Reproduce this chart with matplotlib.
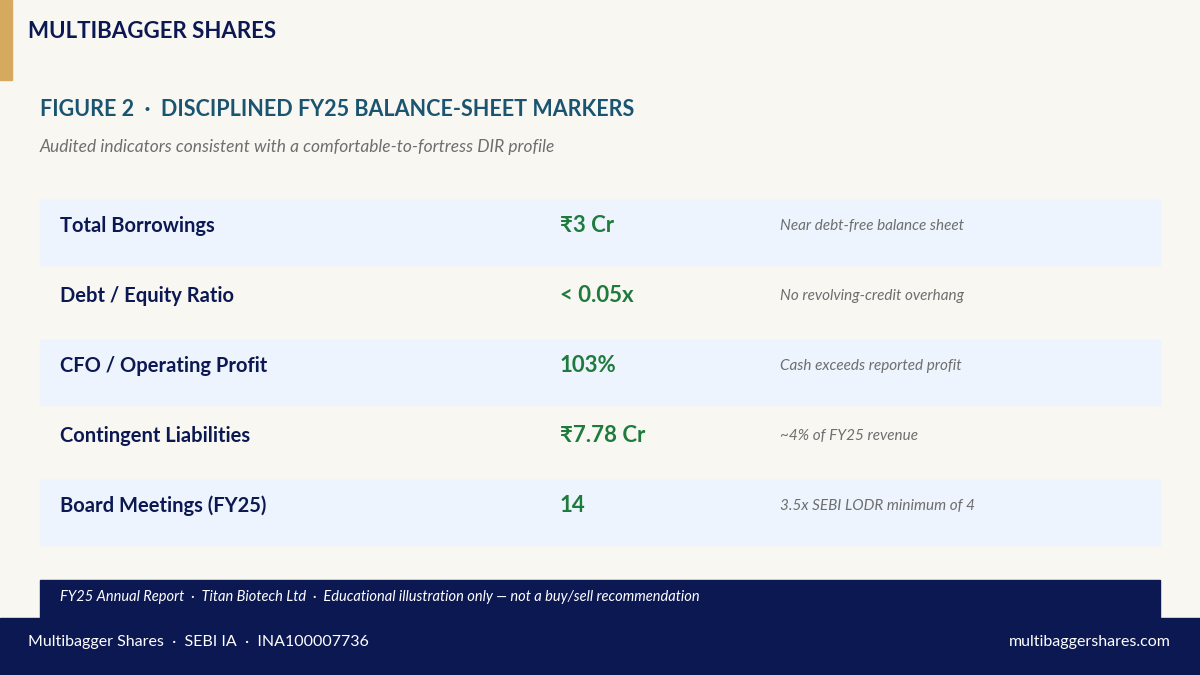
import matplotlib
matplotlib.use("Agg")
import matplotlib.pyplot as plt
from matplotlib.patches import Rectangle

plt.rcParams['font.family'] = ['Lato', 'DejaVu Sans']

metrics = ["Total Borrowings", "Debt / Equity Ratio", "CFO / Operating Profit",
           "Contingent Liabilities", "Board Meetings (FY25)"]
values = ["₹3 Cr", "< 0.05x", "103%", "₹7.78 Cr", "14"]
notes = ["Near debt-free balance sheet", "No revolving-credit overhang",
         "Cash exceeds reported profit", "~4% of FY25 revenue",
         "3.5x SEBI LODR minimum of 4"]

NAVY = "#0C1852"
BG = "#F8F7F2"
fig = plt.figure(figsize=(12, 6.75), dpi=100, facecolor=BG)
ax = fig.add_axes([0, 0, 1, 1])
ax.set_xlim(0, 1200); ax.set_ylim(675, 0); ax.axis("off")
ax.set_facecolor(BG)

ax.add_patch(Rectangle((0, 0), 12, 80, color="#D6AA5E"))
ax.text(28, 32, "MULTIBAGGER SHARES", fontsize=16, fontweight="bold", color=NAVY, va="center")
ax.text(40, 110, "FIGURE 2  ·  DISCIPLINED FY25 BALANCE-SHEET MARKERS", fontsize=15.5,
        fontweight="bold", color="#1B5470", va="center")
ax.text(40, 147, "Audited indicators consistent with a comfortable-to-fortress DIR profile",
        fontsize=12.5, style="italic", color="#6E6E6E", va="center")

for i, (m, v, n) in enumerate(zip(metrics, values, notes)):
    top = 200 + 70 * i
    if i % 2 == 0:
        ax.add_patch(Rectangle((40, top), 1120, 65, color="#EDF4FD"))
    yc = top + 26
    ax.text(60, yc, m, fontsize=14.5, fontweight="bold", color=NAVY, va="center")
    ax.text(560, yc, v, fontsize=16, fontweight="bold", color="#1E7B3C", va="center")
    ax.text(780, yc, n, fontsize=11, style="italic", color="#6E6E6E", va="center")

ax.add_patch(Rectangle((40, 580), 1120, 40, color=NAVY))
ax.text(60, 597, "FY25 Annual Report  ·  Titan Biotech Ltd  ·  Educational illustration only — not a buy/sell recommendation",
        fontsize=10.5, style="italic", color="white", va="center")
ax.add_patch(Rectangle((0, 618), 1200, 57, color=NAVY))
ax.text(28, 642, "Multibagger Shares  ·  SEBI IA  ·  INA100007736", fontsize=11.5, color="white", va="center")
ax.text(1171, 642, "multibaggershares.com", fontsize=11.5, color="white", va="center", ha="right")

fig.savefig("out.png", dpi=100, facecolor=BG)
